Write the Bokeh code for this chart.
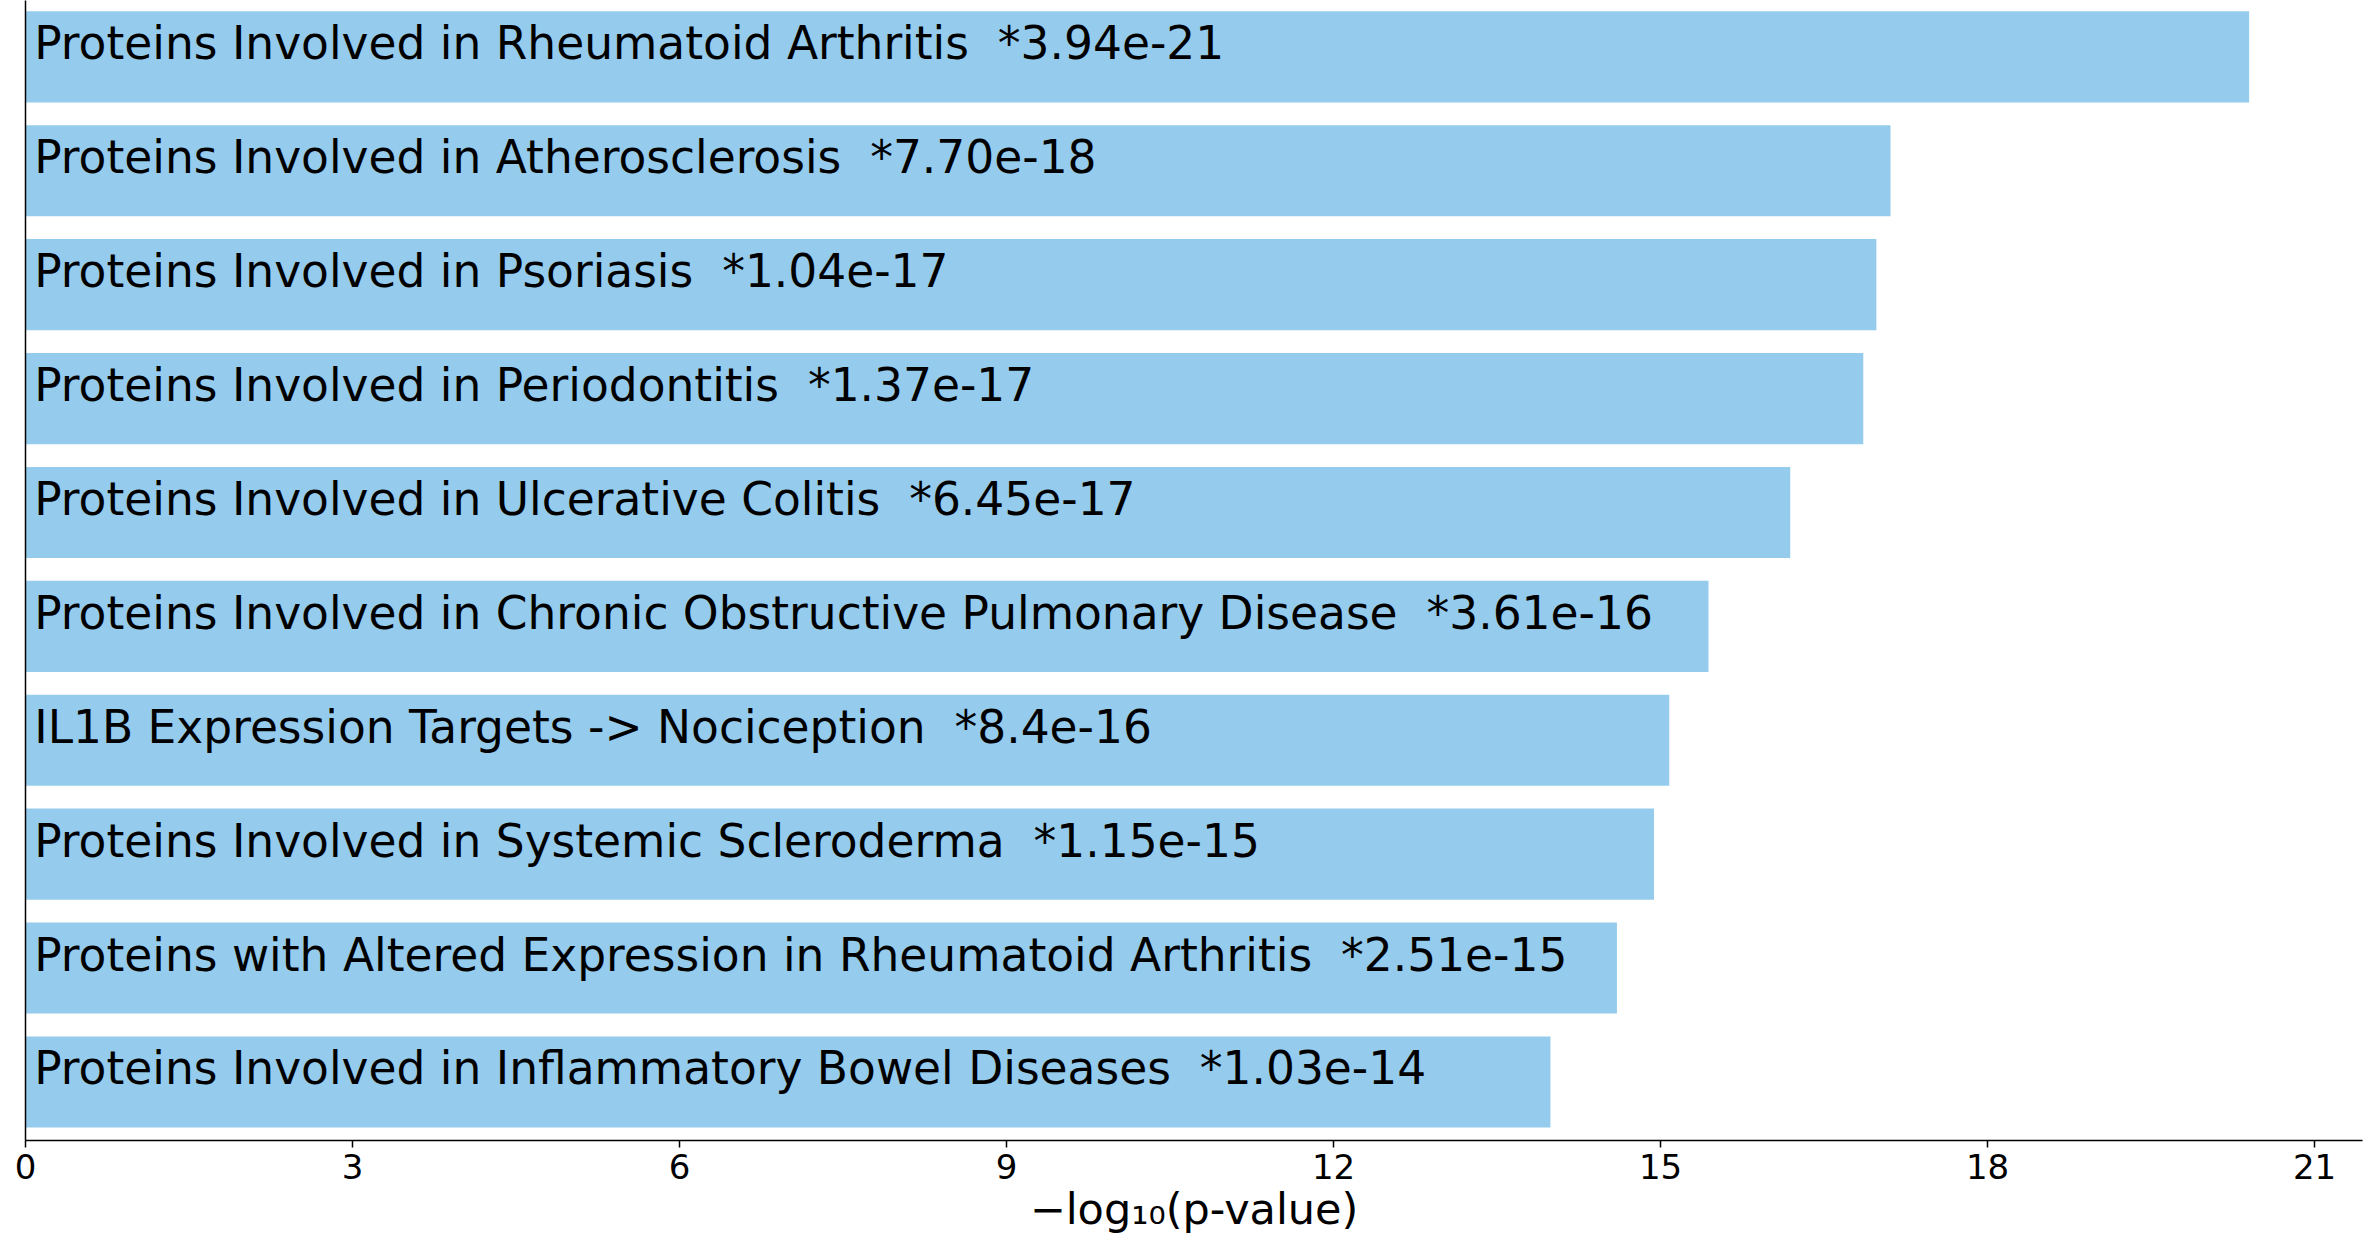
from bokeh.plotting import figure
from bokeh.models import Range1d, FixedTicker, ColumnDataSource, GlobalInlineStyleSheet
from bokeh.core.properties import value
from bokeh.embed import file_html
from bokeh.resources import INLINE

# data (top to bottom as shown)
terms = [
    "Proteins Involved in Rheumatoid Arthritis",
    "Proteins Involved in Atherosclerosis",
    "Proteins Involved in Psoriasis",
    "Proteins Involved in Periodontitis",
    "Proteins Involved in Ulcerative Colitis",
    "Proteins Involved in Chronic Obstructive Pulmonary Disease",
    "IL1B Expression Targets -> Nociception",
    "Proteins Involved in Systemic Scleroderma",
    "Proteins with Altered Expression in Rheumatoid Arthritis",
    "Proteins Involved in Inflammatory Bowel Diseases",
]
pvalue_labels = ["3.94e-21", "7.70e-18", "1.04e-17", "1.37e-17", "6.45e-17",
                 "3.61e-16", "8.4e-16", "1.15e-15", "2.51e-15", "1.03e-14"]
neglog_p = [20.40, 17.11, 16.98, 16.86, 16.19, 15.44, 15.08, 14.94, 14.60, 13.99]
x_ticks = [0, 3, 6, 9, 12, 15, 18, 21]
x_label = "\u2212log\u2081\u2080(p-value)"

n = len(terms)
ypos = [n - 1 - i for i in range(n)]
labels = [f"{t}\u00a0\u00a0*{p}" for t, p in zip(terms, pvalue_labels)]
src = ColumnDataSource(dict(y=ypos, v=neglog_p, label=labels,
                            tx=[0.08] * n))

x_end = 21.44
p = figure(width=2364, height=1250, output_backend="svg", toolbar_location=None,
           x_range=Range1d(0, x_end), y_range=Range1d(-0.514, 9.495))
p.stylesheets = [GlobalInlineStyleSheet(css="html, body { overflow: hidden; }")]
p.min_border_left = 25
p.min_border_right = 2
p.min_border_top = 0
p.min_border_bottom = 110
p.outline_line_color = None
p.xgrid.visible = False
p.ygrid.visible = False
p.background_fill_color = "white"
p.border_fill_color = "white"

p.hbar(y="y", right="v", left=0, height=0.8, source=src,
       fill_color="#95CBED", line_color=None)
p.text(x="tx", y="y", text="label", source=src, text_font=value("DejaVu Sans"),
       text_font_size="45.5px", text_color="black", text_baseline="alphabetic",
       text_align="left", y_offset=-13)

xa = p.xaxis[0]
xa.ticker = FixedTicker(ticks=x_ticks)
xa.minor_tick_line_color = None
xa.major_tick_out = 7
xa.major_tick_in = 0
xa.major_tick_line_width = 1.5
xa.axis_line_width = 1.5
xa.major_label_text_font = "DejaVu Sans"
xa.major_label_text_font_size = "34px"
xa.major_label_text_color = "black"
xa.major_label_standoff = 6
xa.axis_label = x_label
xa.axis_label_text_font = "DejaVu Sans"
xa.axis_label_text_font_size = "43px"
xa.axis_label_text_font_style = "normal"
xa.axis_label_text_color = "black"
xa.axis_label_standoff = 2

ya = p.yaxis[0]
ya.ticker = FixedTicker(ticks=[])
ya.major_tick_line_color = None
ya.minor_tick_line_color = None
ya.major_label_text_font_size = "0px"
ya.major_label_standoff = 0
ya.axis_line_width = 1.5

open("out.html", "w").write(file_html(p, INLINE))
